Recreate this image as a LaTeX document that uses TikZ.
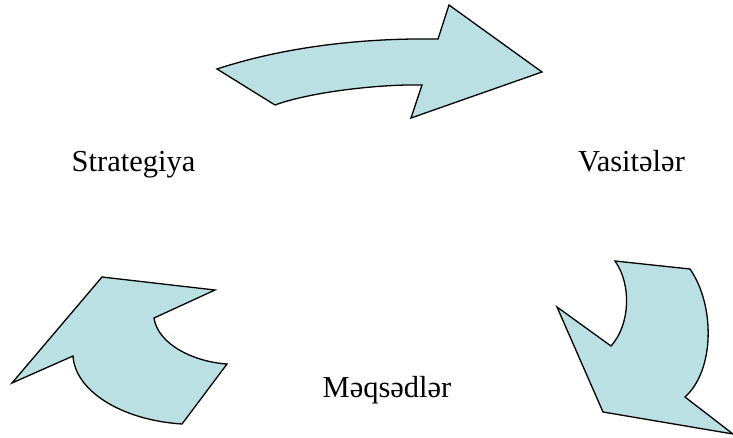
\documentclass[tikz,border=0pt]{standalone}
\usepackage{fontspec}
\setmainfont{Liberation Serif}
\definecolor{arrowfill}{RGB}{186,224,227}
\begin{document}
\begin{tikzpicture}[x=1pt,y=-1pt,
  arr/.style={draw=black,fill=arrowfill,line width=1.3pt,line join=miter},
  lbl/.style={font=\fontsize{30.5}{36}\selectfont,inner sep=0pt,anchor=base}]
\useasboundingbox (0,0) rectangle (733,437);
% top arrow
\path[arr] (217,69) .. controls (290,45) and (370,38) .. (438,39)
  -- (449,5) -- (542,72) -- (411,118) -- (422,85)
  .. controls (380,84) and (310,92) .. (275,105) -- cycle;
% left arrow
\path[arr] (102,277) -- (215,290) -- (154,318)
  .. controls (158,345) and (195,362) .. (227,364)
  -- (182,424) .. controls (120,420) and (75,390) .. (73,356)
  -- (12,383) -- cycle;
% right arrow
\path[arr] (615,261) -- (690,269)
  .. controls (715,305) and (715,370) .. (685,397)
  -- (733,434) -- (603,412) -- (557,307) -- (611,346)
  .. controls (630,325) and (632,285) .. cycle;
\node[lbl] (s) at (133.5,171) {Strategiya};
\node[lbl] (v) at (631.5,171) {Vasitələr};
\node[lbl] (m) at (387,397) {Məqsədlər};
\end{tikzpicture}
\end{document}
